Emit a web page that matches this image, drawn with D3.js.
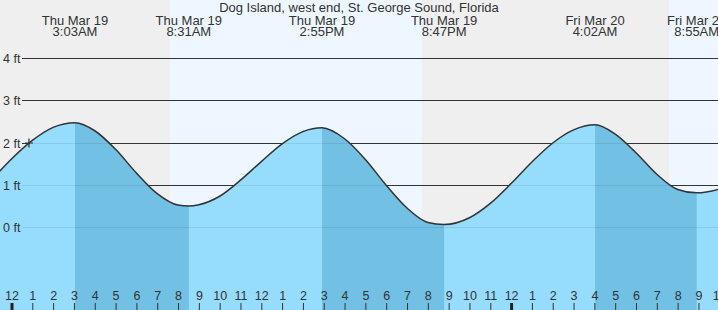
<!DOCTYPE html>
<html>
<head>
<meta charset="utf-8">
<script src="https://cdn.jsdelivr.net/npm/d3@7"></script>
<style>
body { margin: 0; background: #fff; }
svg { display: block; font-family: "Liberation Sans", Arial, sans-serif; }
</style>
</head>
<body>
<svg></svg>
<script>
var screen = {width: 718, height: 310};

var title = "Dog Island, west end, St. George Sound, Florida";

// hours after Thu Mar 19 00:00, tide height in feet
var tideHours = [-1, 0, 1, 2, 3.05, 4, 5, 6, 7, 8, 8.517, 9, 10, 11, 12, 13, 14, 14.917,
                 16, 17, 18, 19, 20, 20.783, 22, 23, 24, 25, 26, 27, 28.033, 29, 30, 31, 32, 32.917, 34, 35];
var tideFeet  = [1.10, 1.62, 2.06, 2.37, 2.48, 2.29, 1.85, 1.29, 0.80, 0.53, 0.51, 0.54, 0.74, 1.12, 1.56, 1.98, 2.27, 2.36,
                 2.10, 1.61, 1.00, 0.46, 0.12, 0.07, 0.23, 0.57, 1.04, 1.55, 2.00, 2.31, 2.43, 2.21, 1.77, 1.26, 0.90, 0.82, 0.91, 1.10];

// highs and lows
var extremeHours = [3.05, 8.517, 14.917, 20.783, 28.033, 32.917];
var extremeDays  = ["Thu Mar 19", "Thu Mar 19", "Thu Mar 19", "Thu Mar 19", "Fri Mar 20", "Fri Mar 20"];
var extremeClock = ["3:03AM", "8:31AM", "2:55PM", "8:47PM", "4:02AM", "8:55AM"];

// falling tide (high -> low) gets the darker water
var fallStart = [3.05, 14.917, 28.033];
var fallEnd   = [8.517, 20.783, 32.917];

// daylight
var sunrise = [7.61, 31.58];
var sunset  = [19.71, 43.7];

var feetTicks  = [0, 1, 2, 3, 4];
var feetLabels = ["0 ft", "1 ft", "2 ft", "3 ft", "4 ft"];
var hourTicks  = [0, 1, 2, 3, 4, 5, 6, 7, 8, 9, 10, 11, 12, 13, 14, 15, 16, 17, 18, 19, 20, 21, 22, 23,
                  24, 25, 26, 27, 28, 29, 30, 31, 32, 33, 34];
var hourLabels = ["12", "1", "2", "3", "4", "5", "6", "7", "8", "9", "10", "11", "12", "1", "2", "3", "4", "5",
                  "6", "7", "8", "9", "10", "11", "12", "1", "2", "3", "4", "5", "6", "7", "8", "9", "10"];

var nowHour = 0.84, nowFeet = 2.0;

var setup = function()
{
    var svg = d3.select("svg")
    .attr("width", screen.width)
    .attr("height", screen.height);

    var xScale = d3.scaleLinear().domain([0, 24]).range([11.5, 511.1]);
    var yScale = d3.scaleLinear().domain([0, 4]).range([227.5, 58.5]);
    var gridY = function(v){ return Math.floor(yScale(v)) + 0.5; };

    // night / day background
    svg.append("rect")
    .attr("width", screen.width).attr("height", screen.height)
    .attr("fill", "#efefef");

    svg.selectAll(".day")
    .data(sunrise)
    .enter()
    .append("rect")
    .attr("class", "day")
    .attr("x", function(d){ return xScale(d); })
    .attr("y", 0)
    .attr("width", function(d, i){ return xScale(sunset[i]) - xScale(d); })
    .attr("height", screen.height)
    .attr("fill", "#eef7ff");

    // grid
    svg.selectAll(".grid")
    .data(feetTicks)
    .enter()
    .append("line")
    .attr("class", "grid")
    .attr("x1", 22).attr("x2", screen.width)
    .attr("y1", gridY).attr("y2", gridY)
    .attr("stroke", "#333");

    var tide = tideHours.map(function(h, i){ return [h, tideFeet[i]]; });

    var area = d3.area()
    .x(function(d){ return xScale(d[0]); })
    .y0(screen.height)
    .y1(function(d){ return yScale(d[1]); })
    .curve(d3.curveMonotoneX);

    var line = d3.line()
    .x(function(d){ return xScale(d[0]); })
    .y(function(d){ return yScale(d[1]); })
    .curve(d3.curveMonotoneX);

    svg.append("clipPath")
    .attr("id", "water")
    .append("path")
    .attr("d", area(tide));

    var water = svg.append("g").attr("clip-path", "url(#water)");

    water.append("rect")
    .attr("width", screen.width).attr("height", screen.height)
    .attr("fill", "#95dcfd");

    water.selectAll(".fall")
    .data(fallStart)
    .enter()
    .append("rect")
    .attr("x", function(d){ return xScale(d); })
    .attr("y", 0)
    .attr("width", function(d, i){ return xScale(fallEnd[i]) - xScale(d); })
    .attr("height", screen.height)
    .attr("fill", "#72c0e3");

    water.selectAll(".wgrid")
    .data(feetTicks)
    .enter()
    .append("line")
    .attr("x1", 22).attr("x2", screen.width)
    .attr("y1", gridY).attr("y2", gridY)
    .attr("stroke", "rgba(0,0,0,0.08)");

    svg.append("path")
    .attr("d", line(tide))
    .attr("fill", "none")
    .attr("stroke", "#333")
    .attr("stroke-width", 1.5);

    // current time marker
    var px = xScale(nowHour), py = yScale(nowFeet);
    svg.append("path")
    .attr("d", "M" + (px - 4) + "," + py + "h8M" + px + "," + (py - 4.5) + "v9")
    .attr("stroke", "#333")
    .attr("stroke-width", 1.2);

    // feet labels
    svg.selectAll(".flabel")
    .data(feetTicks)
    .enter()
    .append("text")
    .attr("x", 3)
    .attr("y", function(d){ return gridY(d) + 4.5; })
    .attr("font-size", 12.5)
    .attr("fill", "#333")
    .text(function(d, i){ return feetLabels[i]; });

    // high/low labels
    var heads = svg.selectAll(".head")
    .data(extremeHours)
    .enter()
    .append("text")
    .attr("text-anchor", "middle")
    .attr("font-size", 13)
    .attr("fill", "#333");
    heads.append("tspan")
    .attr("x", function(d){ return xScale(d); })
    .attr("y", 25)
    .text(function(d, i){ return extremeDays[i]; });
    heads.append("tspan")
    .attr("x", function(d){ return xScale(d); })
    .attr("y", 36)
    .text(function(d, i){ return extremeClock[i]; });

    svg.append("text")
    .attr("x", screen.width / 2)
    .attr("y", 12)
    .attr("text-anchor", "middle")
    .attr("font-size", 13)
    .attr("fill", "#333")
    .text(title);

    // hour axis
    var hourAxis = d3.axisTop(xScale)
    .tickValues(hourTicks)
    .tickFormat(function(d, i){ return hourLabels[i]; })
    .tickSize(7)
    .tickPadding(3);

    var ax = svg.append("g")
    .attr("transform", "translate(0," + screen.height + ")")
    .call(hourAxis);
    ax.attr("font-family", null).attr("font-size", 12.5).attr("color", "#333");
    ax.select(".domain").remove();
    ax.selectAll(".tick line")
    .attr("stroke-width", function(d){ return d % 24 === 0 ? 3 : 1; })
    .attr("stroke", function(d){ return d % 24 === 0 ? "#222" : "#333"; });
}

setup();
</script>
</body>
</html>
